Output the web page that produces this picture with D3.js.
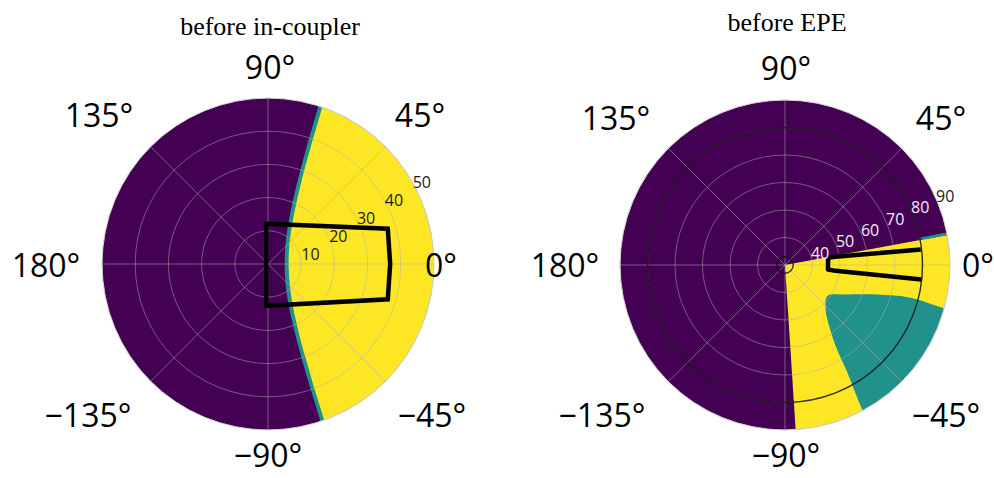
<!DOCTYPE html>
<html>
<head>
<meta charset="utf-8">
<script src="https://cdn.jsdelivr.net/npm/d3@7"></script>
<style>
  body { margin: 0; background: #fff; }
  svg { display: block; }
</style>
</head>
<body>
<svg id="chart" width="994" height="478"></svg>
<script>
// ---- shared angular axis (degrees, counter-clockwise from east) ----
const angleTicks = [0, 45, 90, 135, 180, -135, -90, -45];
const angleTickLabels = ["0°", "45°", "90°", "135°", "180°", "−135°", "−90°", "−45°"];

// ---- panel A: field of view before the in-coupler ----
const titleA = "before in-coupler";
const radialDomainA = [0, 50];
const radialTicksA = [10, 20, 30, 40, 50];
// edge of the transmitted (yellow) zone, theta in degrees, r in degrees
const yellowEdgeThetaA = [71.2, 70.8, 70.2, 69.2, 67.7, 64.9, 58.8, 42.9, 0, -42.8, -58.5, -64.4, -67.2, -68.5, -69.6, -70.1, -70.5];
const yellowEdgeRA     = [55.7, 47.8, 40.0, 32.2, 26.0, 20.0, 14.1, 8.8, 6.2, 8.9, 14.1, 20.0, 26.1, 32.3, 40.2, 48.0, 55.9];
// thin transition (teal) band just outside that edge
const tealEdgeThetaA = [72.4, 72.2, 71.9, 71.2, 70.2, 68.1, 63.2, 48.8, 0, -48.7, -62.9, -67.6, -69.6, -70.6, -71.2, -71.5, -71.7];
const tealEdgeRA     = [55.3, 47.5, 39.6, 31.8, 25.6, 19.5, 13.5, 8.0, 5.0, 8.0, 13.5, 19.5, 25.7, 31.9, 39.8, 47.6, 55.5];
// far side of both zones lies outside the plotted range
const outerThetaA = [-40, 0, 40];
const outerRA = [62, 62, 62];
// FOV outline
const fovThetaA = [92.4, 16.4, 0, -16.4, -92.3];
const fovRA     = [12.1, 37.6, 36.8, 37.6, 12.6];

// ---- panel B: field of view before the EPE ----
const titleB = "before EPE";
const radialDomainB = [30, 90];
const radialTicksB = [40, 50, 60, 70, 80, 90];
const yellowEdgeThetaB = [-86.3, -86.3, 10.5, 10.5];
const yellowEdgeRB     = [100, 30, 30, 100];
const yellowOuterThetaB = [-20, -50];
const yellowOuterRB     = [100, 100];
const tealSliverThetaB = [11.4, 11.4, 10.4, 10.4];
const tealSliverRB     = [79, 100, 100, 82];
const tealEdgeThetaB = [-15.5, -15.2, -14.6, -17.7, -26.6, -36.3, -47.5, -52.1, -58.0, -59.9, -61.8, -62.3];
const tealEdgeRB     = [100,   89.3,  77.2,  65.3,  54.0,  49.1,  51.9,  55.1,  64.8,  75.3,  88.3,  100];
const tealOuterThetaB = [-40];
const tealOuterRB     = [100];
const refCirclesB = [33, 80];
const fovThetaB = [6.5, 9.3, 9.5, -6.0, -6.6, -6.1];
const fovRB     = [79.7, 48.5, 45.9, 45.7, 48.5, 79.9];

const COLORS = { low: "#440154", mid: "#21918c", high: "#fde725" };

const zip = (th, rr) => th.map((t, i) => ({ t, r: rr[i] }));

const panels = [
  {
    id: "a", title: titleA, cx: 268, cy: 264, R: 166,
    domain: radialDomainA, ticks: radialTicksA,
    titleX: 270, titleY: 35,
    regions: [
      { color: COLORS.mid, smooth: true, edge: zip(tealEdgeThetaA, tealEdgeRA), outer: zip(outerThetaA, outerRA) },
      { color: COLORS.high, smooth: true, edge: zip(yellowEdgeThetaA, yellowEdgeRA), outer: zip(outerThetaA, outerRA) }
    ],
    circles: [],
    fov: zip(fovThetaA, fovRA), fovClosed: true,
    rLabelAngle: 33, rLabelDx: 14.6, rLabelDy: 8,
    rLabelColor: t => "#1a1a1a",
    angleOffsets: [[173, 13], [152, -137], [2, -185], [-169, -137], [-222, 13], [-180, 163], [0, 203], [164, 163]]
  },
  {
    id: "b", title: titleB, cx: 785, cy: 265, R: 165,
    domain: radialDomainB, ticks: radialTicksB,
    titleX: 787, titleY: 31,
    regions: [
      { color: COLORS.high, smooth: false, edge: zip(yellowEdgeThetaB, yellowEdgeRB), outer: zip(yellowOuterThetaB, yellowOuterRB) },
      { color: COLORS.mid, smooth: false, edge: zip(tealSliverThetaB, tealSliverRB), outer: [] },
      { color: COLORS.mid, smooth: true, edge: zip(tealEdgeThetaB, tealEdgeRB), outer: zip(tealOuterThetaB, tealOuterRB) }
    ],
    circles: refCirclesB,
    fov: zip(fovThetaB, fovRB), fovClosed: false,
    rLabelAngle: 24.4, rLabelDx: 10, rLabelDy: -1,
    rLabelColor: t => (t === 90 ? "#1a1a1a" : "#f4ecf4"),
    angleOffsets: [[193, 12], [156, -135], [1, -185], [-169, -135], [-220, 12], [-183, 162], [1, 202], [161, 162]]
  }
];

const svg = d3.select("#chart");
svg.append("rect").attr("width", 994).attr("height", 478).attr("fill", "#fff");
const defs = svg.append("defs");
const rad = d => d * Math.PI / 180;

panels.forEach(p => {
  const r = d3.scaleLinear().domain(p.domain).range([0, p.R]);
  const g = svg.append("g").attr("transform", `translate(${p.cx},${p.cy})`);
  const toXY = d => [r(d.r) * Math.cos(rad(d.t)), -r(d.r) * Math.sin(rad(d.t))];

  // zone outline: (optionally smoothed) edge, then straight run through points beyond the rim
  const zonePath = z => {
    const edge = d3.line().curve(z.smooth ? d3.curveCatmullRom.alpha(0.5) : d3.curveLinear)(z.edge.map(toXY));
    return edge + z.outer.map(d => "L" + toXY(d).join(",")).join("") + "Z";
  };

  defs.append("clipPath").attr("id", "clip-" + p.id)
    .append("circle").attr("r", p.R);

  const plot = g.append("g").attr("clip-path", `url(#clip-${p.id})`);

  // background class
  plot.append("circle").attr("r", p.R).attr("fill", COLORS.low);

  // coloured zones
  plot.selectAll("path.zone").data(p.regions).join("path")
    .attr("class", "zone")
    .attr("d", zonePath)
    .attr("fill", d => d.color);

  // grid: rings and spokes
  plot.selectAll("circle.ring").data(p.ticks).join("circle")
    .attr("class", "ring")
    .attr("r", d => r(d))
    .attr("fill", "none")
    .attr("stroke", "#b0b0b0")
    .attr("stroke-opacity", 0.5)
    .attr("stroke-width", 1);
  plot.selectAll("line.spoke").data(angleTicks).join("line")
    .attr("class", "spoke")
    .attr("x1", 0).attr("y1", 0)
    .attr("x2", d => p.R * Math.cos(rad(d)))
    .attr("y2", d => -p.R * Math.sin(rad(d)))
    .attr("stroke", "#b0b0b0")
    .attr("stroke-opacity", 0.5)
    .attr("stroke-width", 1);

  // reference circles
  plot.selectAll("circle.ref").data(p.circles).join("circle")
    .attr("class", "ref")
    .attr("r", d => r(d))
    .attr("fill", "none")
    .attr("stroke", "#111")
    .attr("stroke-opacity", 0.85)
    .attr("stroke-width", 1.4);

  // FOV outline
  g.append("path")
    .attr("d", d3.line().curve(p.fovClosed ? d3.curveLinearClosed : d3.curveLinear)(p.fov.map(toXY)))
    .attr("fill", "none")
    .attr("stroke", "#000")
    .attr("stroke-width", 4.5)
    .attr("stroke-linejoin", p.fovClosed ? "miter" : "round")
    .attr("stroke-linecap", "butt");

  // outer spine
  g.append("circle").attr("r", p.R)
    .attr("fill", "none").attr("stroke", "#cfcfcf").attr("stroke-width", 1);

  // radial tick labels
  g.selectAll("text.rl").data(p.ticks).join("text")
    .attr("class", "rl")
    .attr("x", d => r(d) * Math.cos(rad(p.rLabelAngle)) + p.rLabelDx)
    .attr("y", d => -r(d) * Math.sin(rad(p.rLabelAngle)) + p.rLabelDy)
    .attr("text-anchor", "middle")
    .attr("dominant-baseline", "central")
    .attr("font-family", "'Open Sans', sans-serif")
    .attr("font-size", 16)
    .attr("fill", d => p.rLabelColor(d))
    .text(d => d);

  // angular tick labels
  g.selectAll("text.al").data(angleTicks).join("text")
    .attr("class", "al")
    .attr("x", (d, i) => p.angleOffsets[i][0])
    .attr("y", (d, i) => p.angleOffsets[i][1])
    .attr("text-anchor", "middle")
    .attr("font-family", "'Open Sans', sans-serif")
    .attr("font-size", 32)
    .attr("fill", "#000")
    .text((d, i) => angleTickLabels[i]);

  // title
  svg.append("text")
    .attr("x", p.titleX).attr("y", p.titleY)
    .attr("text-anchor", "middle")
    .attr("font-family", "'Liberation Serif', 'Times New Roman', serif")
    .attr("font-size", 26)
    .attr("fill", "#000")
    .text(p.title);
});
</script>
</body>
</html>
